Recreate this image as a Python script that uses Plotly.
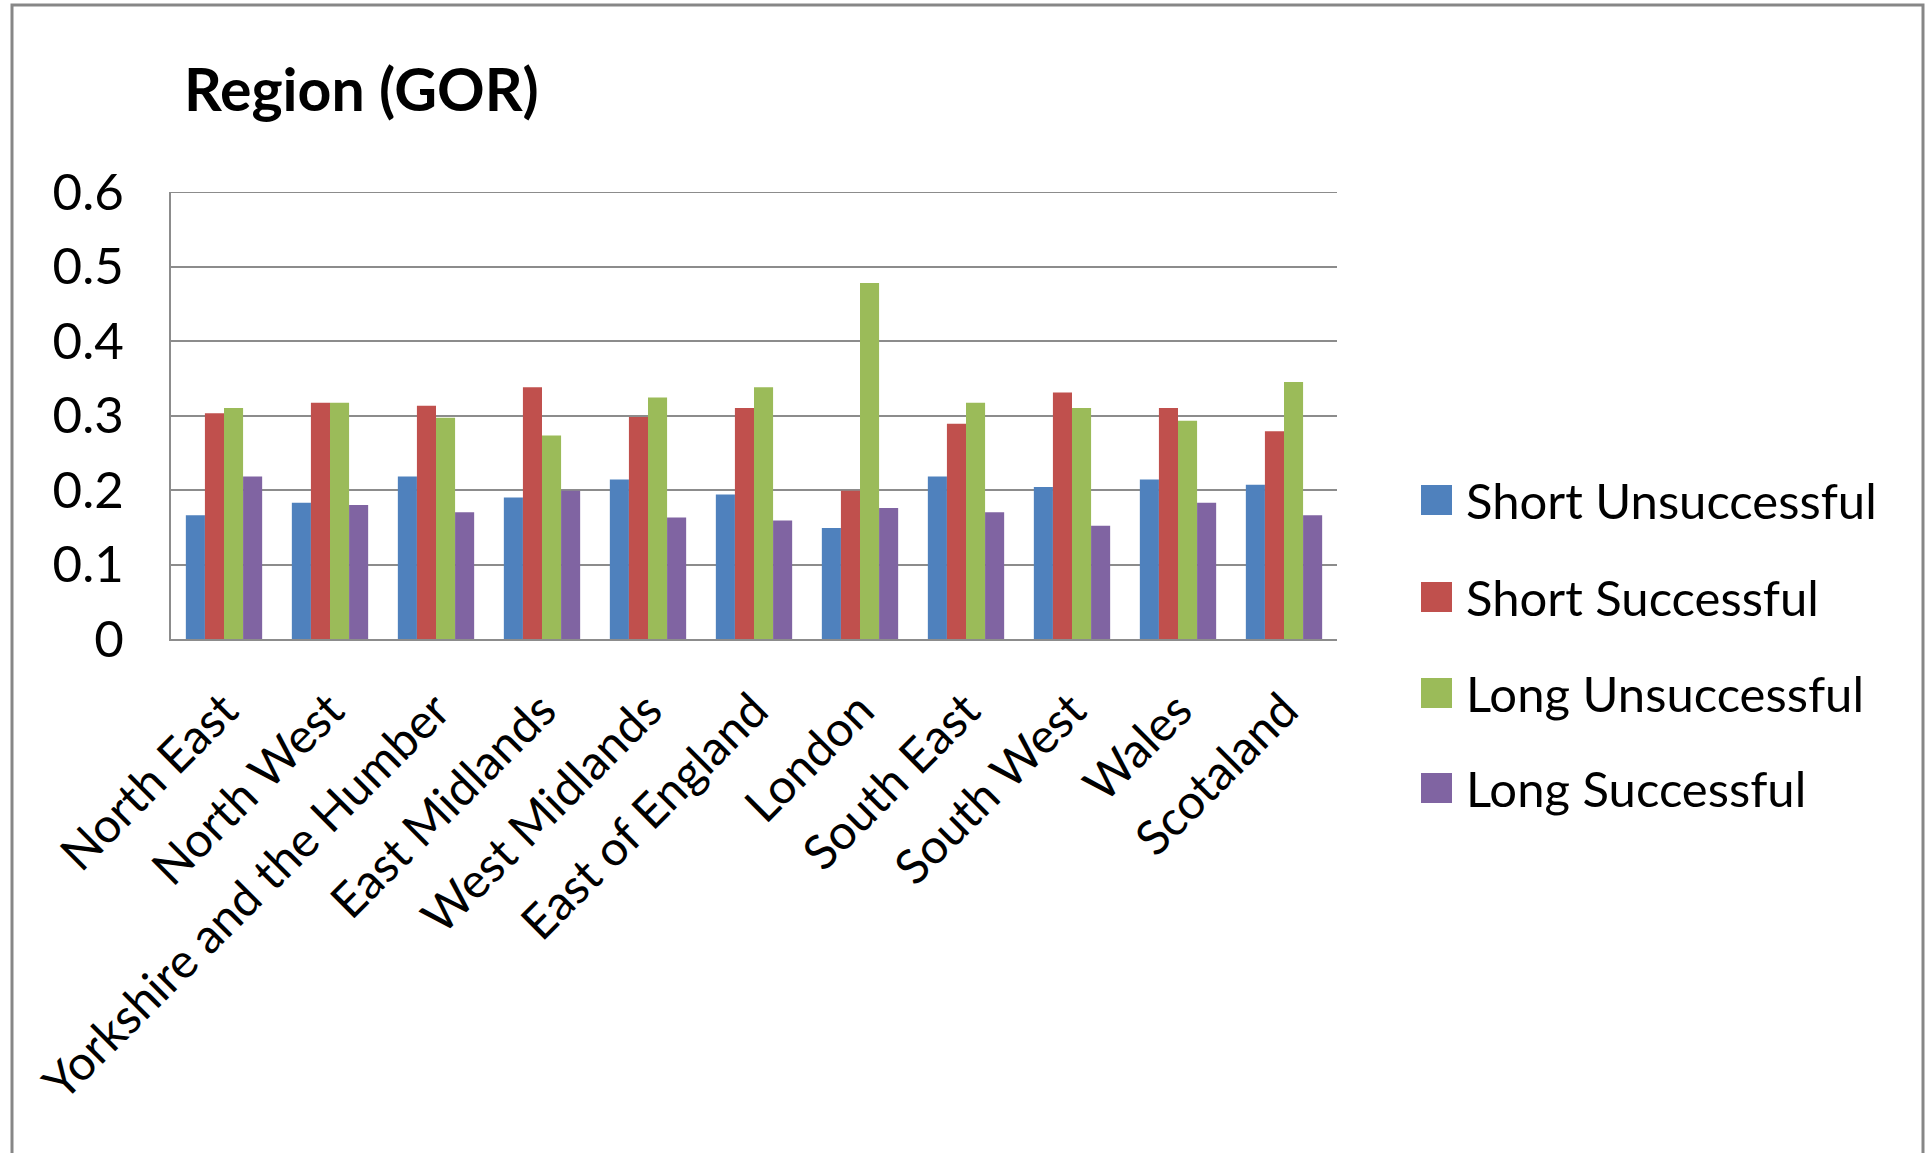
import plotly.graph_objects as go

# Regions (x categories)
regions = ["North East", "North West", "Yorkshire and the Humber", "East Midlands",
           "West Midlands", "East of England", "London", "South East", "South West",
           "Wales", "Scotaland"]

# Series values per region
short_unsuccessful = [0.166, 0.183, 0.218, 0.190, 0.214, 0.194, 0.149, 0.218, 0.204, 0.214, 0.207]
short_successful   = [0.303, 0.317, 0.313, 0.338, 0.298, 0.310, 0.199, 0.289, 0.331, 0.310, 0.279]
long_unsuccessful  = [0.310, 0.317, 0.297, 0.273, 0.324, 0.338, 0.478, 0.317, 0.310, 0.293, 0.345]
long_successful    = [0.218, 0.180, 0.170, 0.199, 0.163, 0.159, 0.176, 0.170, 0.152, 0.183, 0.166]

series_names = ["Short Unsuccessful", "Short Successful", "Long Unsuccessful", "Long Successful"]
series_values = [short_unsuccessful, short_successful, long_unsuccessful, long_successful]
colors = ["#4F81BD", "#C0504D", "#9BBB59", "#8064A2"]

y_ticks = [0, 0.1, 0.2, 0.3, 0.4, 0.5, 0.6]

FONT = "Lato, 'Open Sans', sans-serif"
GRID = "#8c8c8c"

W, H = 1928, 1153
L, R, T, B = 171, 1337, 192, 639  # plot area in pixels
pw, ph = R - L, B - T


def px(x):
    return (x - L) / pw


def py(y):
    return (B - y) / ph


fig = go.Figure()
for name, vals, col in zip(series_names, series_values, colors):
    fig.add_trace(go.Bar(
        x=regions, y=vals, name=name,
        marker=dict(color=col, line=dict(width=0)),
        showlegend=False,
    ))

shapes = []
annotations = []

# outer chart frame
shapes.append(dict(type="rect", xref="paper", yref="paper",
                   x0=px(12), x1=px(1923), y0=py(1200), y1=py(5),
                   line=dict(color="#878787", width=3), fillcolor="rgba(0,0,0,0)",
                   layer="below"))

# gridline at the top of the value range
shapes.append(dict(type="line", xref="paper", yref="y",
                   x0=0, x1=1, y0=max(y_ticks), y1=max(y_ticks),
                   line=dict(color=GRID, width=2), layer="below"))

# title
annotations.append(dict(text="<b>Region (GOR)</b>", xref="paper", yref="paper",
                        x=px(182), y=py(88), xanchor="left", yanchor="middle",
                        showarrow=False, font=dict(family=FONT, size=59, color="#000")))

# legend drawn as swatches + labels
leg_y = [500, 597, 693, 788]
for name, col, yc in zip(series_names, colors, leg_y):
    shapes.append(dict(type="rect", xref="paper", yref="paper",
                       x0=px(1421), x1=px(1452), y0=py(yc + 15), y1=py(yc - 15),
                       fillcolor=col, line=dict(width=0)))
    annotations.append(dict(text=name, xref="paper", yref="paper",
                            x=px(1464), y=py(yc), xanchor="left", yanchor="middle",
                            showarrow=False, font=dict(family=FONT, size=49, color="#000")))

fig.update_layout(
    width=W, height=H,
    margin=dict(l=L, r=W - R, t=T, b=H - B, pad=0),
    paper_bgcolor="white", plot_bgcolor="white",
    barmode="group", bargap=0.28, bargroupgap=0,
    font=dict(family=FONT, size=42, color="#000"),
    shapes=shapes, annotations=annotations,
    xaxis=dict(
        tickangle=-45, tickfont=dict(family=FONT, size=48, color="#000"),
        showgrid=False, showline=True, linecolor=GRID, linewidth=2,
        ticks="", ticklabelstandoff=22,
    ),
    yaxis=dict(
        range=[0, 0.6], tickvals=y_ticks, ticktext=[f"{v:g}" for v in y_ticks],
        tickfont=dict(family=FONT, size=51, color="#000"),
        showgrid=True, gridcolor=GRID, gridwidth=2,
        showline=True, linecolor=GRID, linewidth=2,
        zeroline=False, ticks="", ticklabelstandoff=35,
    ),
)

fig.write_html("out.html")
